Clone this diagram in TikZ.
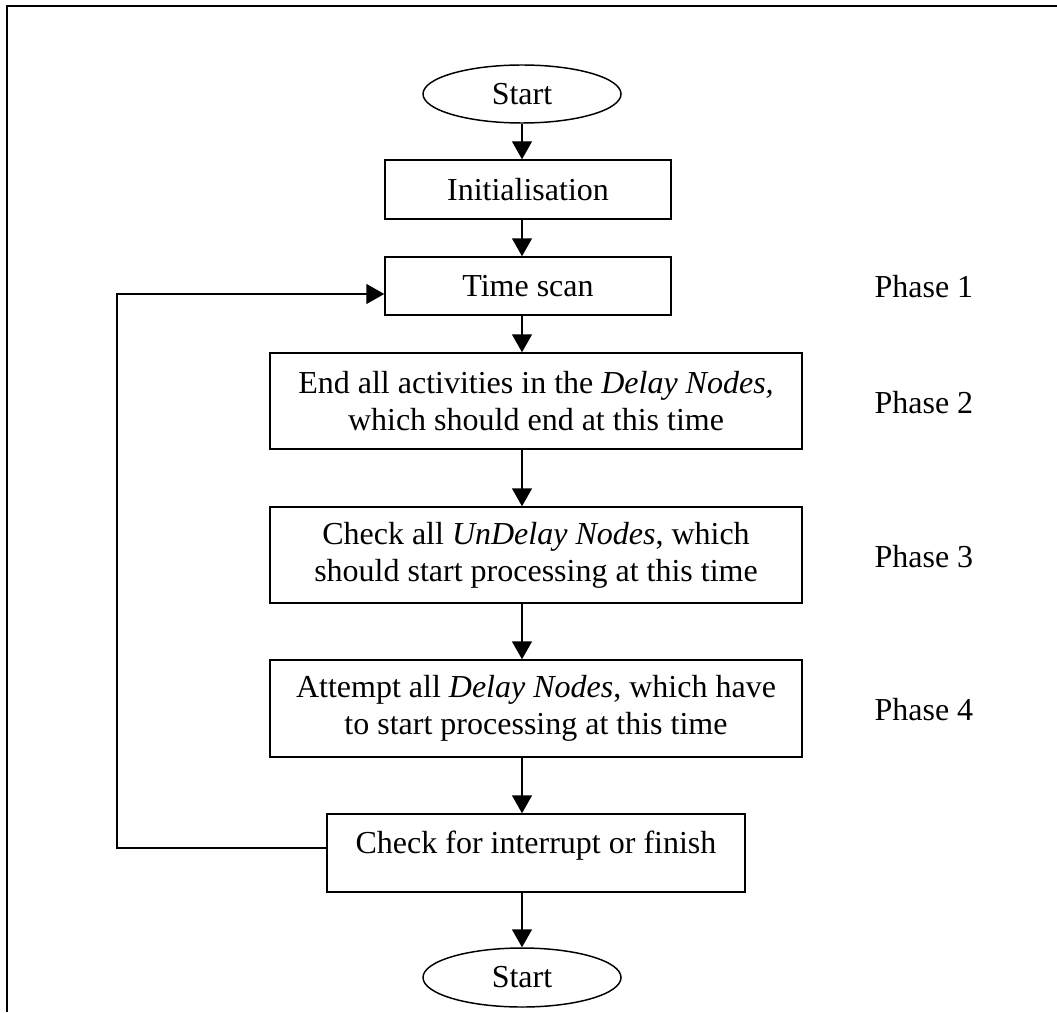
\documentclass[tikz,border=0pt]{standalone}
\usepackage{fontspec}
\setmainfont{Liberation Serif}
\usetikzlibrary{arrows.meta,shapes.geometric}
\begin{document}
\begin{tikzpicture}[x=0.375pt,y=-0.375pt,
  txt/.style={font=\fontsize{12}{13.8}\selectfont},
  box/.style={txt,draw,line width=0.55pt,rectangle,inner sep=0pt,align=center},
  oval/.style={txt,draw,line width=0.55pt,ellipse,inner sep=0pt},
  conn/.style={line width=0.55pt,-{Triangle[width=7.5pt,length=6.75pt]}},
  phase/.style={txt,anchor=west,inner sep=0pt}]
\useasboundingbox (0,0) rectangle (1057,1012);
\draw[line width=0.8pt] (1057,6) -- (7,6) -- (7,1012);

\node[oval,minimum width=74.25pt,minimum height=21.75pt] (start) at (522,94) {Start};
\node[box,minimum width=107.25pt,minimum height=22.125pt] (init) at (528,189.5) {Initialisation};
\node[box,minimum width=107.25pt,minimum height=21.75pt] (time) at (528,286) {Time scan};
\node[box,minimum width=199.5pt,minimum height=36pt] (endn) at (536,401)
  {End all activities in the \textit{Delay Nodes,}\\which should end at this time};
\node[box,minimum width=199.5pt,minimum height=36pt] (check) at (536,555)
  {Check all \textit{UnDelay Nodes}, which\\should start processing at this time};
\node[box,minimum width=199.5pt,minimum height=36.375pt] (attempt) at (536,708.5)
  {Attempt all \textit{Delay Nodes}, which have\\to start processing at this time};
\node[box,minimum width=156.75pt,minimum height=29.25pt,text depth=8pt] (checkint) at (536,853)
  {Check for interrupt or finish};
\node[oval,minimum width=74.25pt,minimum height=22.125pt] (stop) at (522,977.5) {Start};

\node[phase] (p1) at (874,287) {Phase 1};
\node[phase] (p2) at (874,403) {Phase 2};
\node[phase] (p3) at (874,557) {Phase 3};
\node[phase] (p4) at (874,710) {Phase 4};

\draw[conn] (start.south) -- (start.south |- init.north);
\draw[conn] (start.south |- init.south) -- (start.south |- time.north);
\draw[conn] (start.south |- time.south) -- (start.south |- endn.north);
\draw[conn] (start.south |- endn.south) -- (start.south |- check.north);
\draw[conn] (start.south |- check.south) -- (start.south |- attempt.north);
\draw[conn] (start.south |- attempt.south) -- (start.south |- checkint.north);
\draw[conn] (start.south |- checkint.south) -- (stop.north);

\coordinate (lb) at (117,848);
\coordinate (lt) at (117,294);
\draw[conn] (checkint.west |- lb) -- (lb) -- (lt) -- (time.west |- lt);
\end{tikzpicture}
\end{document}
